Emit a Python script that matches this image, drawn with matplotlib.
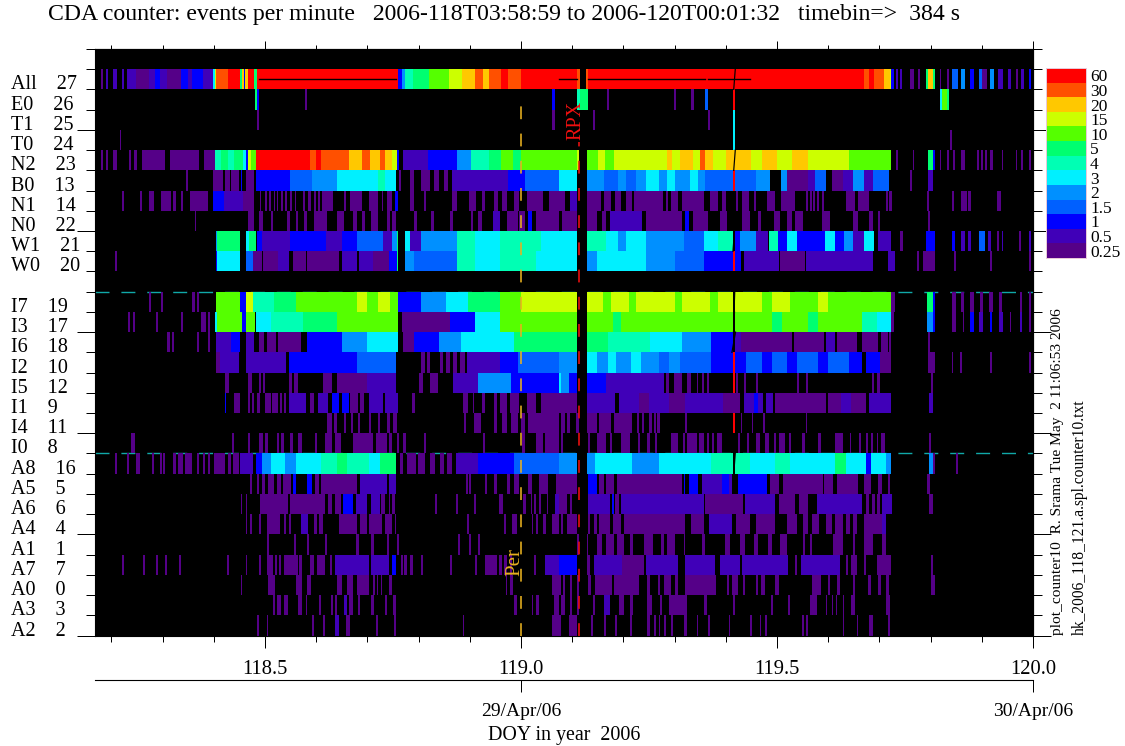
import matplotlib
matplotlib.use("Agg")
import numpy as np
import matplotlib.pyplot as plt
from matplotlib.colors import ListedColormap, BoundaryNorm

plt.rcParams['font.family'] = ['Liberation Serif', 'DejaVu Serif']

# rate levels of the colour bar, events per minute
LEVELS = [0.25, 0.5, 1, 1.5, 2, 3, 4, 5, 10, 15, 20, 30, 60]
LEVEL_LABELS = ["0.25", "0.5", "1", "1.5", "2", "3", "4", "5", "10", "15", "20", "30", "60"]
COLORS = ["#550088", "#4000b8", "#0000ff", "#0060ff", "#0090ff", "#00f0ff", "#00ffb4",
          "#00ff70", "#55ff00", "#ccff00", "#ffc800", "#ff5000", "#ff0000"]

# runs are (start, end) or (start, end, rate), times in 1/1000 day after DOY 118
# a run without a rate is at the lowest level, 0.25
all_27 = [(180,184),(189,194,.5),(203,211,.5),(220,225,.5),(230,249,.5),(249,273),(273,285,.5),(285,295,1),(295,308,.5),
          (308,336,.25),(336,350,1),(350,358,.5),(358,378,1),(378,399,.5),(399,402,3),(402,405,15),(405,428,30),(428,452,60),
          (452,455,5),(455,459,20),(459,461,1),(461,467,20),(467,478,60),(478,484,5),(484,760,60),(760,767,1),(767,774,2),
          (774,790,4),(790,805,5),(805,820,5),(820,835,10),(835,860,10),(860,875,15),(875,885,15),(885,896,20),(896,910,20),(910,925,30),
          (925,938,20),(938,960,30),(960,975,60),(975,1000,30),(1000,1110,60),
          (1110,1115,30),(1127,1131,30),(1131,1670,60),(1670,1680,30),(1680,1690,60),(1690,1709,30),(1709,1721,20),(1721,1723,15),
          (1723,1728,1),(1733,1737,.5),(1740,1745,.5),(1759,1768),(1775,1779),(1791,1795,5),(1795,1804,20),(1804,1809,5),
          (1818,1821),(1832,1836),(1841,1853,1.5),(1860,1867,2),(1876,1885,1),(1895,1900,1.5),(1900,1911),(1916,1923,2),
          (1932,1942,.5),(1951,1958,.5),(1966,1971),(1976,1983,.5),(1992,1997,1)]
e0_26 = [(480,484,5),(484,488,1),(579,582),(1060,1066,1),(1110,1116,4),(1116,1131,5),(1168,1172),(1299,1303),(1333,1338),
         (1360,1365,1.5),(1414,1418,60),(1818,1823,3),(1823,1832,10),(1832,1836,5)]
t1_25 = [(484,488),(1060,1066),(1141,1145),(1365,1369),(1414,1418,3)]
t0_24 = [(216,219),(1414,1418,3),(1837,1841)]
n2_23 = [(180,184),(189,194),(203,211),(235,239),(244,251),(260,305),(314,371),(381,402),(402,415,4),(415,427,5),(427,440,4),(440,457,5),(457,462,3),
         (462,467,1),(467,473,15),(473,483,10),(483,588,60),(588,600,30),(600,610,60),(610,651,30),(651,665,30),(665,690,20),(690,705,30),(705,725,20),
         (725,735,30),(735,749,20),(749,757,15),(757,761,1),(769,819,.5),(819,875,1),(875,903,2),(903,938,4),(938,960,5),(960,985,10),(985,1000,5),
         (1000,1075,10),(1075,1110,10),(1110,1113,15),(1128,1150,10),(1150,1165,15),(1165,1181,10),(1181,1285,15),(1285,1295,20),(1295,1310,15),
         (1310,1335,20),(1335,1350,15),(1350,1360,30),(1360,1375,20),(1375,1400,15),(1400,1450,20),(1450,1470,15),(1470,1500,20),(1500,1530,15),
         (1530,1560,20),(1560,1640,15),(1640,1723,10),(1733,1737),(1765,1768),
         (1795,1804,5),(1804,1809,1),(1818,1821),(1832,1836),(1844,1848),(1860,1867),(1890,1895),(1899,1902),(1907,1911),
         (1916,1921),(1939,1942),(1966,1969),(1976,1980),(1992,1996)]
b0_13 = [(346,349),(399,418),(421,431),(434,449),(453,456,1),(462,479),(483,549,1),(549,591,1.5),(591,640,2),(640,721,3),
         (721,735,4),(735,756,3),(762,766),(784,791),(805,822),(830,840),(850,858),(865,938,.5),(938,975,.5),(975,1008,1),
         (1008,1075,1.5),(1075,1110,3),(1128,1163,2),(1163,1190,1.5),(1190,1205,2),(1205,1225,1.5),(1225,1244,2),(1244,1270,3),(1270,1285,2),
         (1285,1300,3),(1300,1330,2),(1330,1345,3),(1345,1360,2),(1360,1414,1.5),(1414,1418,60),
         (1418,1459,1.5),(1459,1487,2),(1507,1520,2),(1520,1561),(1561,1575,.5),(1575,1596,1.5),(1607,1628),(1628,1649,.5),
         (1649,1670,2),(1670,1688,.5),(1688,1719,1.5),(1759,1763),(1795,1804,.5)]
n1_14 = [(220,225),(256,260),(274,283),(296,317),(321,326),(336,340),(354,389),(399,420,1),(420,458,.5),(458,479),(490,493),
         (500,504),(507,511),(517,519),(524,526),(532,535),(539,543),(549,553),(559,561),(574,578),(584,589),(595,599),(603,607),
         (612,633),(654,659),(667,690),(704,721),(728,731),(739,749),(753,760,1),(784,792),(811,815),(866,875),(899,913),(924,930),
         (948,956),(963,973),(987,997),(1011,1043),(1054,1086),(1096,1110,.5),(1128,1156),(1163,1176),(1184,1196),(1205,1216),
         (1221,1278),(1283,1288),(1293,1307),(1314,1357),(1369,1385),(1393,1400),(1420,1423),(1431,1445),(1455,1459),(1480,1497),
         (1508,1536),(1557,1561),(1564,1568),(1571,1575),(1578,1583),(1588,1592),(1635,1652),(1659,1680),(1712,1716),(1719,1724),
         (1793,1797),(1842,1846),(1859,1871),(1874,1879),(1930,1937)]
n0_22 = [(363,366),(467,479),(489,496),(511,515),(543,549),(560,564),(577,582),(595,621),(640,654),(672,679),(689,696),(707,721),
         (739,745),(748,756),(791,796),(824,831),(862,867),(903,906),(917,924),(945,959,.5),(972,994),(997,1008),(1014,1022,1),
         (1029,1075),(1081,1110),(1128,1149),(1158,1167),(1174,1237,.5),(1244,1314),(1320,1328,1),(1335,1365),(1388,1402),
         (1431,1448),(1462,1469),(1494,1506),(1519,1529),(1536,1550),(1588,1603),(1649,1659),(1680,1687),(1698,1702),(1795,1799)]
w1_21 = [(404,407,2),(407,451,5),(462,469,3),(469,483,5),(484,494,1),(494,549,.5),(549,620,1),(620,651,.5),(651,679,1),(679,731,1.5),
         (731,749,.5),(749,757,2),(757,760,5),(774,784,3),(784,805,.5),(805,875,2),(875,910,4),(910,959,3),(959,1040,4),(1040,1110,3),(1128,1167,4),
         (1167,1190,3),(1190,1205,2),(1205,1244,3),(1244,1318,2),(1318,1357,1.5),(1357,1385,3),(1385,1414,4),(1418,1427,1),(1427,1459,2),(1459,1483,.5),(1485,1501,4),
         (1501,1519,1),(1520,1540,3),(1540,1593,1),(1594,1614,3),(1614,1631,1),(1631,1649,2),(1649,1670,.5),(1670,1689,3),
         (1698,1723,.5),(1740,1746),(1791,1809,1),(1841,1848,1),(1859,1867,.5),(1874,1879,.5),(1895,1906,1.5),(1913,1918,.5),
         (1930,1934),(1940,1942,.5),(1973,1976),(1992,1996,.5)]
w0_20 = [(208,211),(404,407,1),(407,451,3),(462,477,1.5),(477,494),(497,525),(525,546,.5),(554,580),(582,644),(650,679,.5),(683,711,.5),
         (711,742),(742,757,1),(757,760,5),(774,791,2),(791,875,1.5),(875,910,4),(910,959,3),(959,1030,4),(1030,1075,3),(1075,1110,3),(1128,1149,2),
         (1149,1244,3),(1244,1300,2),(1300,1357,1.5),(1357,1414,1),(1414,1418,60),(1418,1430,1),(1436,1504,.5),(1506,1554),
         (1557,1688,.5),(1716,1730,.5),(1773,1778),(1786,1809),(1846,1849),(1916,1920),(1992,1996)]
i7_19 = [(273,278),(296,300),(358,363),(368,372),(404,451,10),(451,462,1),(462,477,15),(477,518,4),(518,560,5),(560,680,10),(680,700,15),(700,720,10),
         (720,745,15),(745,760,10),(760,805,1),(805,854,2),(854,896,3),(896,959,5),(959,1000,10),(1000,1110,15),(1128,1160,15),(1160,1175,10),
         (1175,1210,15),(1210,1225,10),(1225,1300,15),(1300,1315,10),(1315,1370,15),(1370,1385,10),(1385,1414,15),(1418,1470,15),(1470,1490,10),
         (1490,1526,15),(1526,1580,10),(1580,1600,15),(1600,1723,10),(1723,1730),(1793,1804,5),(1804,1809,1),(1841,1849),(1859,1866),(1876,1885),
         (1897,1902),(1915,1921),(1934,1939),(1975,1979),(1992,1997)]
i3_17 = [(233,237),(242,247),(287,292),(336,340),(376,385),(389,393),(403,406,3),(406,455,10),(455,462,1),(462,480,10),(483,511,3),
         (511,574,4),(574,640,5),(640,760,10),(767,861),(861,910,1),(910,959,3),(959,1110,10),(1128,1180,10),(1180,1195,5),(1195,1414,10),(1418,1490,10),
         (1490,1510,5),(1510,1560,10),(1560,1580,5),(1580,1666,10),(1666,1695,4),(1695,1723,3),(1723,1728),(1793,1804,2),(1804,1809,1),(1841,1849),
         (1863,1866),(1876,1885,1),(1895,1902,.5),(1916,1920,1),(1934,1942,.5),(1955,1958),(1975,1979,.5),(1992,1997)]
i6_18 = [(309,314),(318,322),(368,371),(389,393),(404,434,.5),(434,451,1),(462,479,.5),(489,498),(504,521),(525,570),(583,651,1),
         (651,700,2),(700,759,3),(770,791),(791,840,1),(840,882,2),(882,987,3),(987,1110,5),(1128,1170,5),(1170,1251,4),(1251,1314,3),
         (1314,1371,2),(1371,1414,1),(1418,1430,.5),(1430,1529),(1533,1592),(1596,1614,.5),(1617,1656),(1666,1698),(1704,1716),(1719,1723),(1795,1799)]
i2_10 = [(404,413),(413,449,.5),(462,542,.5),(546,679,1),(679,756,1.5),(805,812),(817,823),(841,847),(854,862),(868,875),(881,890),
         (895,959,.5),(959,994,1),(994,1075,1.5),(1075,1110,2),(1128,1149,3),(1149,1170,2),(1170,1185,3),(1185,1215,2),(1215,1235,3),(1235,1270,2),
         (1270,1290,1.5),(1290,1310,2),(1310,1371,1.5),(1371,1414,1),(1414,1418,60),(1418,1440,1),(1440,1470,1.5),(1470,1490,1),(1490,1520,1.5),
         (1520,1540,1),(1540,1580,1.5),(1580,1600,1),(1600,1640,1.5),(1640,1666,1),(1673,1702,1),(1702,1723),(1795,1809),(1841,1844),(1858,1862),(1916,1920),(1992,1996)]
i5_12 = [(421,429),(466,474),(488,492),(497,501),(547,553),(557,564),(614,630),(640,700),(700,756,.5),(801,809),(823,837),(867,917,.5),
         (917,980,2),(980,1075,1),(1075,1079,3),(1079,1093,2),(1093,1110,1),(1128,1167,1),(1167,1279,.5),(1283,1290),(1299,1314),
         (1325,1332),(1343,1346),(1353,1357),(1364,1368),(1414,1418,60),(1420,1423),(1436,1440),(1459,1462),(1540,1543),(1557,1561),
         (1686,1690),(1696,1702),(1800,1804)]
i1_9 = [(421,424,1),(439,451),(466,471),(475,479),(484,490),(494,495,1),(500,511),(514,525),(529,533),(537,541),(546,581,.5),(587,596),
        (604,623,.5),(630,644,1),(650,664,1),(667,681),(686,693),(704,731,.5),(735,760,.5),(788,793),(886,897),(906,909),(924,930),
        (948,953),(959,973),(979,997),(1011,1029),(1040,1110),(1128,1184,.5),(1191,1230,.5),(1230,1250),(1250,1290,.5),(1290,1320),(1320,1395,.5),
        (1395,1427),(1435,1455,.5),(1455,1462,1),(1462,1473,.5),(1478,1492,.5),(1497,1596),(1599,1625),(1625,1645,.5),(1645,1673),(1680,1723,.5),(1797,1804,.5)]
i4_11 = [(622,630),(634,640),(655,658),(668,672),(682,686),(703,707),(721,724),(739,745),(750,757),(889,893),(908,921),(948,953),
         (963,973),(980,994),(1000,1008),(1014,1075),(1079,1086),(1089,1096),(1107,1114),(1128,1149),(1152,1176),(1181,1216),(1226,1230),
         (1237,1240),(1250,1255),(1259,1264),(1266,1271),(1321,1325),(1414,1418,60),(1429,1431),(1452,1454),(1473,1476),(1557,1559)]
i0_8 = [(238,247),(435,439),(467,470),(489,497),(500,505),(524,528),(532,537),(549,554),(564,573),(598,602),(617,630),(637,648),(671,711),
        (716,739),(743,748),(758,762),(770,775),(811,814),(925,929),(1002,1008),(1029,1043),(1046,1075),(1079,1082),(1131,1135),(1149,1167),
        (1174,1177),(1195,1212),(1228,1233),(1247,1251),(1262,1265),(1293,1307),(1316,1321),(1325,1343),(1348,1357),(1364,1367),(1373,1376),
        (1383,1393),(1423,1427),(1441,1445),(1459,1466),(1476,1485),(1495,1499),(1503,1516),(1524,1527),(1548,1554),(1580,1585),(1614,1628),
        (1642,1645),(1661,1665),(1673,1677),(1684,1688),(1695,1698),(1703,1711),(1797,1800)]
a8_16 = [(208,211),(230,234),(249,256),(279,283),(294,298),(301,304),(320,326),(331,339),(343,357),(368,372),(378,383),(389,392),(401,421),
         (427,433),(437,449),(452,477,.5),(483,495,1),(495,511,2),(511,540,3),(540,560,2),(560,609,3),(609,640,4),(640,660,5),(660,704,4),(704,725,3),(725,756,5),(764,769),(778,795),
         (799,813),(823,832),(841,850),(855,865),(874,917,.5),(917,987,1),(987,1075,1.5),(1075,1110,2),(1128,1145,2),(1145,1216,3),
         (1216,1269,2),(1269,1371,3),(1371,1414,4),(1418,1448,4),(1448,1497,3),(1497,1526,4),(1526,1614,3),(1614,1635,5),(1635,1673,3),
         (1673,1684,1),(1684,1712,3),(1712,1723,2),(1797,1804,2),(1804,1809),(1849,1853)]
a5_5 = [(470,474),(484,488),(494,501),(505,518),(524,532),(535,550),(554,561,1),(582,591,1),(598,605),(609,679),(685,739,.5),(742,755,.5),
        (892,896),(899,903),(930,933),(948,953),(973,979),(987,997),(1014,1022),(1036,1053),(1068,1110),(1131,1149,1),(1152,1163),(1167,1181),
        (1188,1314),(1318,1321,1),(1328,1346,1),(1353,1392,.5),(1392,1406,1),(1406,1413,.5),(1423,1480,1),(1487,1504),(1511,1589),(1592,1610),
        (1617,1659),(1670,1684),(1698,1705),(1716,1721),(1792,1799)]
a6_6 = [(453,456),(462,465),(490,545),(549,617),(624,630),(637,648),(653,672,1),(677,699,.5),(707,724,.5),(727,734),(742,744),(749,753),
        (832,835),(874,877),(909,912),(958,965),(1003,1009),(1019,1022),(1026,1029),(1036,1039),(1050,1053),(1067,1075,.5),(1075,1089),
        (1096,1100),(1109,1110),(1131,1174,.5),(1177,1181,1),(1184,1191),(1195,1357,.5),(1360,1434),(1438,1497,.5),(1504,1536),(1543,1561),
        (1578,1666,.5),(1673,1680),(1686,1691),(1695,1702),(1705,1724,.5),(1797,1804)]
a4_4 = [(462,465),(471,474),(489,492),(503,529),(538,541),(546,550),(570,584,.5),(595,602),(606,613),(645,679),(685,699),(704,729),(734,748),
        (753,756),(895,898),(966,971),(983,992),(1021,1024),(1029,1033),(1043,1049),(1060,1075),(1079,1082),(1089,1110),(1130,1135),(1142,1149),
        (1152,1174),(1179,1195),(1202,1321),(1332,1357),(1367,1413,.5),(1420,1448),(1459,1497),(1520,1540),(1550,1561),(1568,1582),(1596,1607),
        (1614,1628),(1635,1642),(1649,1656),(1670,1705),(1705,1712,.5)]
a1_1 = [(504,507),(557,560),(582,586),(618,622),(677,684),(708,712),(738,742),(757,761),(877,881),(899,903),(917,920),(1110,1114),(1128,1131),
        (1149,1158),(1167,1181),(1188,1202),(1212,1219),(1240,1257),(1274,1279),(1286,1300),(1318,1321),(1353,1360),(1399,1409),(1427,1438),
        (1455,1462),(1483,1490),(1506,1519),(1550,1554),(1564,1568),(1610,1628),(1649,1652),(1670,1688),(1705,1712)]
a7_7 = [(220,225),(261,265),(288,291),(305,309),(332,336),(426,430),(462,465),(489,492),(503,515),(519,523),(528,532),(537,564),(566,573),(587,596),
        (601,617),(627,630),(636,704,.5),(707,742,.5),(748,756,1),(765,769),(772,777),(784,789),(804,809),(862,866),(910,914),(930,953),(958,962),
        (967,973),(979,983),(1025,1029),(1046,1075,.5),(1075,1110,1),(1128,1135),(1142,1198,.5),(1198,1240),(1244,1307,.5),(1321,1378,.5),
        (1388,1427,.5),(1431,1522,.5),(1536,1540),(1547,1624,.5),(1635,1638),(1645,1656),(1670,1673),(1695,1723),(1800,1804)]
a0_0 = [(453,456),(505,519),(560,573),(582,590),(640,650),(660,671),(680,703),(711,714),(718,721),(727,729),(742,748),(970,973),(979,984),(1060,1079),
        (1082,1086),(1096,1100),(1110,1114),(1131,1137),(1145,1177),(1181,1230),(1247,1251),(1267,1272),(1279,1293),(1300,1307),(1321,1381),(1402,1406),
        (1413,1423),(1434,1438),(1459,1462),(1469,1476),(1497,1504),(1568,1585),(1599,1603),(1617,1624),(1649,1652),(1677,1684),(1698,1703),(1712,1719),(1800,1809)]
a3_3 = [(516,520),(524,532),(538,545),(564,573),(580,583),(605,609),(629,632),(637,641),(654,661,.5),(665,672),(681,685),(707,712),(735,739),(750,756),
        (987,992),(1021,1024),(1029,1036),(1064,1075),(1079,1086),(1096,1100),(1110,1114),(1140,1145),(1163,1174,.5),(1191,1202),(1212,1219),(1247,1255),
        (1272,1276),(1290,1325),(1357,1364),(1414,1418),(1489,1492),(1522,1526),(1564,1578),(1595,1597),(1607,1610),(1616,1618),(1628,1631),(1645,1652),(1712,1721)]
a2_2 = [(485,488),(503,505),(592,596),(613,617),(637,644,.5),(658,667),(717,721),(752,756),(886,889),(1060,1079),(1093,1110),(1137,1140),(1163,1167),
        (1184,1188),(1212,1216),(1247,1251),(1259,1264),(1269,1272),(1279,1283),(1293,1297),(1318,1325),(1343,1346),(1365,1369),(1406,1409),(1448,1452),
        (1466,1469),(1476,1480),(1548,1552),(1557,1561),(1628,1631),(1656,1659),(1680,1687),(1716,1721)]

# bottom row first, the empty row between W0 and I7 has no counter
ROW_NAMES = ["A2", "A3", "A0", "A7", "A1", "A4", "A6", "A5", "A8", "I0", "I4", "I1", "I5", "I2", "I6", "I3", "I7", "",
             "W0", "W1", "N0", "N1", "B0", "N2", "T0", "T1", "E0", "All"]
ROW_COUNTERS = [2, 3, 0, 7, 1, 4, 6, 5, 16, 8, 11, 9, 12, 10, 18, 17, 19, None, 20, 21, 22, 14, 13, 23, 24, 25, 26, 27]
ROW_RUNS = [a2_2, a3_3, a0_0, a7_7, a1_1, a4_4, a6_6, a5_5, a8_16, i0_8, i4_11, i1_9, i5_12, i2_10, i6_18, i3_17, i7_19, [],
            w0_20, w1_21, n0_22, n1_14, b0_13, n2_23, t0_24, t1_25, e0_26, all_27]

# saturated stretches in the All row, same time unit
ALL_BLACK_LINES = [(489, 756), (1075, 1110), (1131, 1360), (1366, 1448)]
# black slanted stroke of the burst: row, start, end
SPIKE_ROWS = [27, 23, 19, 16, 15, 14, 8]
SPIKE_START = [1418.5, 1418.5, 1417, 1417.5, 1417, 1419, 1418.5]
SPIKE_END = [1415.5, 1415.5, 1414, 1416, 1415, 1412, 1415.5]

DOY_PERI = 119.0
DOY_RPX = 119.113
DOY_LEFT = 118.168
DOY_RIGHT = 120.0
DATE_DOY = [119.0, 120.0]
DATE_LABELS = ["29/Apr/06", "30/Apr/06"]


def px(n):
    return n * 0.72


W, H = 1125, 746
fig = plt.figure(figsize=(W / 100, H / 100), dpi=100)
ax = fig.add_axes([95 / W, 1 - 635.5 / H, 938 / W, 586.5 / H])
ax.set_facecolor("black")
ax.set_xlim(DOY_LEFT, DOY_RIGHT)
ax.set_ylim(0, 29)

cmap = ListedColormap(COLORS)
norm = BoundaryNorm(LEVELS + [100], cmap.N)

for row, runs in enumerate(ROW_RUNS):
    ranges = []
    colors = []
    for run in runs:
        rate = run[2] if len(run) == 3 else 0.25
        ranges.append((118 + run[0] / 1000, (run[1] - run[0]) / 1000))
        colors.append(cmap(norm(rate)))
    if ranges:
        ax.broken_barh(ranges, (row, 1), facecolors=colors, linewidth=0, antialiased=False, zorder=2)
    if ROW_NAMES[row]:
        ax.text(-0.09, row, ROW_NAMES[row] + "    " + str(ROW_COUNTERS[row]), fontsize=14.5, va="baseline",
                transform=ax.get_yaxis_transform())

for a, b in ALL_BLACK_LINES:
    ax.plot([118 + a / 1000, 118 + b / 1000], [27.5, 27.5], color="black", lw=px(1.4), zorder=3)
for row, a, b in zip(SPIKE_ROWS, SPIKE_START, SPIKE_END):
    ax.plot([118 + a / 1000, 118 + b / 1000], [row + 1, row], color="black", lw=px(1.2), zorder=3)

# dashes sit under the bars
for y in [17, 9]:
    ax.plot([DOY_LEFT, DOY_RIGHT], [y, y], color="#10a8a8", lw=px(1.4), ls=(0, (10, 8.5)), zorder=1)

ax.plot([DOY_PERI, DOY_PERI], [0, 26.8], color="#e8b020", lw=px(1.6), ls=(0, (8, 9)), zorder=4)
ax.plot([DOY_RPX, DOY_RPX], [0, 24.4], color="#f01010", lw=px(1.6), ls=(0, (8, 9)), zorder=4)
ax.text(119.108, 24.5, "RPX", color="#f01010", rotation=90, fontsize=14.5, ha="center", va="bottom", zorder=5)
ax.text(DOY_PERI - 0.012, 2.96, "Per", color="#e8b020", rotation=90, fontsize=15, ha="center", va="bottom", zorder=5)

xmajor = [118.5, 119.0, 119.5, 120.0]
xminor = np.arange(118.2, 120.0, 0.1)
ymajor = np.arange(0, 26, 5)
yminor = np.arange(0, 30)

ax.set_xticks(xmajor)
ax.set_xticklabels(["%.1f" % v for v in xmajor], fontsize=14.8)
ax.set_xticks(xminor, minor=True)
ax.tick_params(axis="x", which="major", length=px(12), width=px(1), pad=px(12))
ax.tick_params(axis="x", which="minor", length=px(6), width=px(1))
ax.set_yticks(ymajor)
ax.set_yticklabels([])
ax.set_yticks(yminor, minor=True)
ax.tick_params(axis="y", which="major", length=px(18), width=px(1))
ax.tick_params(axis="y", which="minor", length=px(9), width=px(1))

top = ax.secondary_xaxis("top")
top.set_xticks(xmajor)
top.set_xticklabels([])
top.set_xticks(xminor, minor=True)
top.tick_params(axis="x", which="major", length=px(8), width=px(1))
top.tick_params(axis="x", which="minor", length=px(4), width=px(1))

right = ax.secondary_yaxis("right")
right.set_yticks(ymajor)
right.set_yticklabels([])
right.set_yticks(yminor, minor=True)
right.tick_params(axis="y", which="major", length=px(18), width=px(1))
right.tick_params(axis="y", which="minor", length=px(9), width=px(1))

dates = ax.secondary_xaxis(-45 / 587)
dates.set_xticks(DATE_DOY)
dates.set_xticklabels(DATE_LABELS, fontsize=14)
dates.tick_params(axis="x", length=px(12), width=px(1), pad=px(11))
dates.set_xlabel("DOY in year  2006", fontsize=14.4, labelpad=px(6))

fig.text(48 / W, 1 - 20 / H, "CDA counter: events per minute   2006-118T03:58:59 to 2006-120T00:01:32   timebin=>  384 s",
         fontsize=17.1, ha="left", va="baseline")
fig.text(1058 / W, 1 - 635 / H, "plot_counter10  R. Srama Tue May  2 11:06:53 2006", fontsize=11.1, rotation=90, ha="center", va="bottom")
fig.text(1080 / W, 1 - 635 / H, "hk_2006_118_121.a.spl.counter10.txt", fontsize=11.2, rotation=90, ha="center", va="bottom")

cax = fig.add_axes([1046 / W, 1 - 258 / H, 40 / W, 190 / H])
cax.imshow(np.arange(len(LEVELS))[:, None], cmap=cmap, origin="lower", aspect="auto")
cax.set_xticks([])
cax.yaxis.tick_right()
cax.set_yticks(np.arange(len(LEVELS)))
cax.set_yticklabels(LEVEL_LABELS, fontsize=12.5)
cax.tick_params(axis="y", length=0, pad=px(4))
for s in cax.spines.values():
    s.set_color("#e8c8d8")
    s.set_linewidth(px(1))

fig.savefig("out.png", dpi=100)
